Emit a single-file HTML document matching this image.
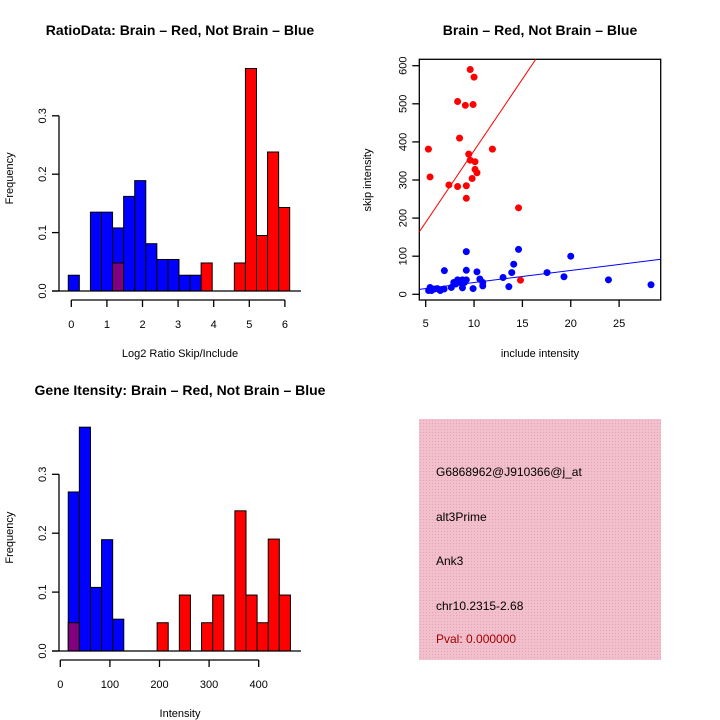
<!DOCTYPE html>
<html><head><meta charset="utf-8"><style>
body{margin:0;background:#fff}
svg{display:block;font-family:"Liberation Sans",sans-serif}
</style></head><body>
<svg id="s" width="720" height="720" viewBox="0 0 720 720">
<defs><pattern id="hatch" width="3" height="3" patternUnits="userSpaceOnUse"><rect width="3" height="3" fill="#f2c0cc"/><rect width="1" height="1" fill="#e8a4b6"/></pattern></defs>
<text x="180" y="35" text-anchor="middle" font-size="14" font-weight="bold">RatioData: Brain – Red, Not Brain – Blue</text>
<text x="540" y="35" text-anchor="middle" font-size="14" font-weight="bold">Brain – Red, Not Brain – Blue</text>
<text x="180" y="395" text-anchor="middle" font-size="14" font-weight="bold">Gene Itensity: Brain – Red, Not Brain – Blue</text>
<g id="h1"></g>
<g id="h2"></g>
<g id="sc"></g>
<g>
<rect x="419" y="419" width="242" height="241" fill="url(#hatch)"/>
<text x="436" y="476" font-size="12">G6868962@J910366@j_at</text>
<text x="436" y="521" font-size="12">alt3Prime</text>
<text x="436" y="565" font-size="12">Ank3</text>
<text x="436" y="610" font-size="12">chr10.2315-2.68</text>
<text x="436" y="643" font-size="12" fill="#a00000">Pval: 0.000000</text>
</g>
</svg>
<script>
const NS="http://www.w3.org/2000/svg";
// ratio histogram data
const ratioBinStart=-0.085, ratioBinWidth=0.311;
const ratioBlue=[0.027,0,0.135,0.135,0.108,0.162,0.189,0.081,0.054,0.054,0.027,0.027,0,0,0,0,0,0,0,0];
const ratioRed=[0,0,0,0,0.048,0,0,0,0,0,0,0,0.048,0,0,0.048,0.381,0.095,0.238,0.143];
const ratioXTicks=[0,1,2,3,4,5,6];
const freqTicks=["0.0","0.1","0.2","0.3"];
// intensity histogram data
const intBinStart=16, intBinWidth=22.4;
const intBlue=[0.27,0.38,0.108,0.189,0.054,0,0,0,0,0,0,0,0,0,0,0,0,0,0,0];
const intRed=[0.048,0,0,0,0,0,0,0,0.048,0,0.095,0,0.048,0.095,0,0.238,0.095,0.048,0.19,0.095];
const intXTicks=[0,100,200,300,400];
// scatter data
const redX=[5.28,5.45,7.4,8.3,8.3,8.5,9.1,9.2,9.2,9.45,9.6,9.6,9.8,9.9,10.0,10.1,10.1,10.3,11.9,14.6,14.8];
const redY=[381,308,287,283,506,410,496,285,252,368,590,352,304,498,570,348,328,319,381,227,37];
const blueX=[5.3,5.45,5.6,5.9,6.2,6.5,6.9,6.93,7.65,7.9,8.1,8.3,8.55,8.8,8.8,9.0,9.2,9.2,9.2,9.9,10.3,10.6,10.9,10.9,13.0,13.6,13.9,14.1,14.6,17.55,19.3,20.0,23.9,28.3];
const blueY=[10,18,10,14,15,10,14,62,18,31,27,38,31,17,38,31,38,112,63,15,59,40,31,22,44,20,57,79,118,57,46,100,38,25];
const redFit=[0.8,37.6], blueFit=[-0.7,3.16];
const scXTicks=[5,10,15,20,25], scYTicks=[0,100,200,300,400,500,600];

function el(p,t,a){const e=document.createElementNS(NS,t);for(const k in a)e.setAttribute(k,a[k]);p.appendChild(e);return e;}

function hist(g,o){
  const X=v=>o.x0+(v-o.xmin)*o.xs, Y=v=>o.y0-v*o.ys;
  const n=o.blue.length;
  for(let i=0;i<n;i++){
    const a=o.start+i*o.w, b=a+o.w, bl=o.blue[i], rd=o.red[i];
    const bars=[];
    if(bl>0&&rd>0){ if(bl>=rd){bars.push([bl,"#0000ff","blue"]);bars.push([rd,"#800080","overlap"]);} else {bars.push([rd,"#ff0000","red"]);bars.push([bl,"#800080","overlap"]);} }
    else if(bl>0) bars.push([bl,"#0000ff","blue"]);
    else if(rd>0) bars.push([rd,"#ff0000","red"]);
    bars.forEach(([h,c,nm])=>{
      const r=el(g,"rect",{x:X(a),y:Y(h),width:X(b)-X(a),height:Y(0)-Y(h),fill:c,stroke:"#000","stroke-width":1});
      
      
    });
  }
  el(g,"line",{x1:o.bx1,x2:o.bx2,y1:Y(0),y2:Y(0),stroke:"#000","stroke-width":1.3});
  el(g,"line",{x1:o.yax,x2:o.yax,y1:Y(0),y2:Y(0.3),stroke:"#000","stroke-width":1.3});
  freqTicks.forEach((t,i)=>{const y=Y(i*0.1);
    el(g,"line",{x1:o.yax-7,x2:o.yax,y1:y,y2:y,stroke:"#000","stroke-width":1.3});
    const tx=el(g,"text",{x:o.yax-13,y:y,"font-size":11,"text-anchor":"middle",transform:`rotate(-90 ${o.yax-13} ${y})`});tx.textContent=t;
    
    
  });
  const xa=o.y0+9;
  el(g,"line",{x1:X(o.ticks[0]),x2:X(o.ticks[o.ticks.length-1]),y1:xa,y2:xa,stroke:"#000","stroke-width":1.3});
  o.ticks.forEach(t=>{const x=X(t);
    el(g,"line",{x1:x,x2:x,y1:xa,y2:xa+7,stroke:"#000","stroke-width":1.3});
    const tx=el(g,"text",{x:x,y:xa+28,"font-size":11,"text-anchor":"middle"});tx.textContent=t;
    
    
  });
  const xl=el(g,"text",{x:o.xlx,y:o.y0+66,"font-size":11,"text-anchor":"middle"});xl.textContent=o.xlab;
  
  
  const ym=(Y(0)+Y(0.3))/2-25;
  const yl=el(g,"text",{x:13,y:ym,"font-size":11,"text-anchor":"middle",transform:`rotate(-90 13 ${ym})`});yl.textContent="Frequency";
  
  
}
hist(document.getElementById("h1"),{x0:71.3,xmin:0,xs:35.6,y0:291,ys:584,blue:ratioBlue,red:ratioRed,start:ratioBinStart,w:ratioBinWidth,ticks:ratioXTicks,bx1:52,bx2:301,yax:59,xlab:"Log2 Ratio Skip/Include",xlx:180});
hist(document.getElementById("h2"),{x0:60.3,xmin:0,xs:0.496,y0:651,ys:589,blue:intBlue,red:intRed,start:intBinStart,w:intBinWidth,ticks:intXTicks,bx1:52,bx2:301,yax:59,xlab:"Intensity",xlx:180});

(function(){
  const g=document.getElementById("sc");
  const L=419.3,R=660.7,T=59.3,B=300;
  const X=v=>425.7+(v-5)*9.67, Y=v=>294.3-v*0.381;
  const cp=el(document.querySelector("defs"),"clipPath",{id:"scclip"});el(cp,"rect",{x:L,y:T,width:R-L,height:B-T});
  const box=el(g,"rect",{x:L,y:T,width:R-L,height:B-T,fill:"none",stroke:"#000","stroke-width":1.3});
  
  
  const xmin=(L-425.7)/9.67+5, xmax=(R-425.7)/9.67+5;
  [[redFit,"#ff0000","red-fit-line"],[blueFit,"#0000ff","blue-fit-line"]].forEach(([f,c,nm])=>{
    const ln=el(g,"line",{x1:X(xmin),y1:Y(f[0]+f[1]*xmin),x2:X(xmax),y2:Y(f[0]+f[1]*xmax),stroke:c,"stroke-width":1,"clip-path":"url(#scclip)"});
    
    
  });
  redX.forEach((x,i)=>{const c=el(g,"circle",{cx:X(x),cy:Y(redY[i]),r:3.5,fill:"#ff0000"});
    
    });
  blueX.forEach((x,i)=>{const c=el(g,"circle",{cx:X(x),cy:Y(blueY[i]),r:3.5,fill:"#0000ff"});
    
    });
  scXTicks.forEach(t=>{const x=X(t);
    el(g,"line",{x1:x,x2:x,y1:B,y2:B+7,stroke:"#000","stroke-width":1.3});
    const tx=el(g,"text",{x:x,y:B+27,"font-size":11,"text-anchor":"middle"});tx.textContent=t;
    
    });
  scYTicks.forEach(t=>{const y=Y(t);
    el(g,"line",{x1:L-7,x2:L,y1:y,y2:y,stroke:"#000","stroke-width":1.3});
    const tx=el(g,"text",{x:L-13,y:y,"font-size":11,"text-anchor":"middle",transform:`rotate(-90 ${L-13} ${y})`});tx.textContent=t;
    
    });
  const xl=el(g,"text",{x:540,y:357,"font-size":11,"text-anchor":"middle"});xl.textContent="include intensity";
  
  
  const yl=el(g,"text",{x:371,y:180,"font-size":11,"text-anchor":"middle",transform:"rotate(-90 371 180)"});yl.textContent="skip intensity";
  
  
})();
</script>
</body></html>
